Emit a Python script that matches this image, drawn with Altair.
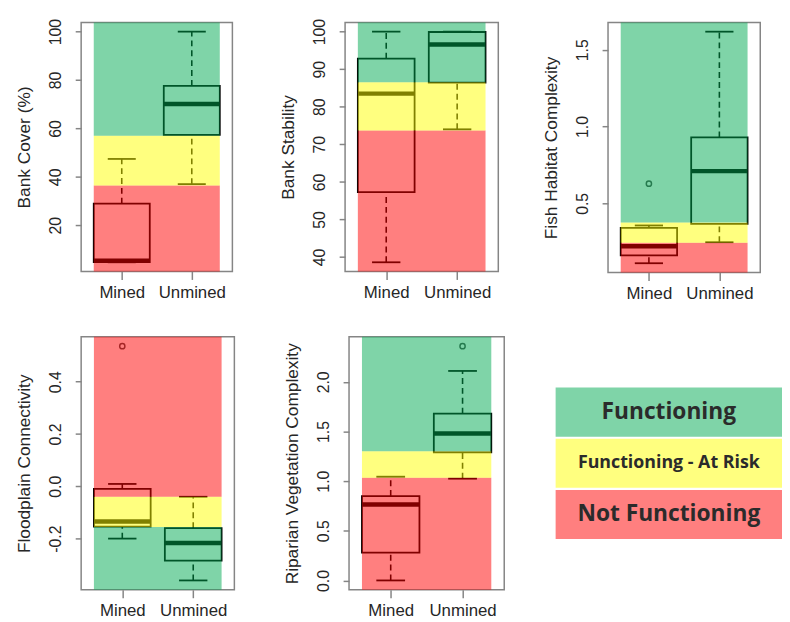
import altair as alt
import pandas as pd

GROUPS = ["Mined", "Unmined"]
ZONES = ["Functioning", "Functioning - At Risk", "Not Functioning"]
ZONE_COLORS = ["#00a951", "#ffff00", "#ff0000"]  # painted at 50% opacity over the boxes

# five-number summaries: [lower whisker, Q1, median, Q3, upper whisker]
BANK_COVER_MINED = [4.7, 4.8, 5.3, 28.9, 47.4]
BANK_COVER_UNMINED = [37.0, 57.3, 70.1, 77.6, 100.0]
BANK_COVER_OUT_MINED = []
BANK_COVER_OUT_UNMINED = []
BANK_COVER_CUTS = [36.4, 57.0]
BANK_COVER_ZONES_UP = ["Not Functioning", "Functioning - At Risk", "Functioning"]
BANK_COVER_TICKS = [20, 40, 60, 80, 100]

BANK_STAB_MINED = [38.6, 57.3, 83.5, 92.8, 100.0]
BANK_STAB_UNMINED = [74.0, 86.4, 96.6, 99.9, 100.0]
BANK_STAB_OUT_MINED = []
BANK_STAB_OUT_UNMINED = []
BANK_STAB_CUTS = [73.7, 86.5]
BANK_STAB_ZONES_UP = ["Not Functioning", "Functioning - At Risk", "Functioning"]
BANK_STAB_TICKS = [40, 50, 60, 70, 80, 90, 100]

FISH_MINED = [0.11, 0.161, 0.221, 0.34, 0.356]
FISH_UNMINED = [0.247, 0.367, 0.71, 0.93, 1.618]
FISH_OUT_MINED = [0.628]
FISH_OUT_UNMINED = []
FISH_CUTS = [0.243, 0.375]
FISH_ZONES_UP = ["Not Functioning", "Functioning - At Risk", "Functioning"]
FISH_TICKS = [0.5, 1.0, 1.5]

FLOOD_MINED = [-0.2, -0.154, -0.135, -0.01, 0.009]
FLOOD_UNMINED = [-0.36, -0.284, -0.217, -0.16, -0.04]
FLOOD_OUT_MINED = [0.536]
FLOOD_OUT_UNMINED = []
FLOOD_CUTS = [-0.156, -0.04]
FLOOD_ZONES_UP = ["Functioning", "Functioning - At Risk", "Not Functioning"]
FLOOD_TICKS = [-0.2, 0.0, 0.2, 0.4]

RIP_MINED = [0.0, 0.28, 0.765, 0.85, 1.045]
RIP_UNMINED = [1.025, 1.29, 1.48, 1.68, 2.11]
RIP_OUT_MINED = []
RIP_OUT_UNMINED = [2.36]
RIP_CUTS = [1.035, 1.30]
RIP_ZONES_UP = ["Not Functioning", "Functioning - At Risk", "Functioning"]
RIP_TICKS = [0.0, 0.5, 1.0, 1.5, 2.0]

# styling
BOX_HALF = 0.4
CAP_HALF = 0.2
LINE = "#000000"
FRAME = "#858585"
FONT = "Liberation Sans"
TXT = "#262626"


def panel(title, mined, unmined, out_m, out_u, cuts, zones_up, ticks, fmt, w, h):
    df = pd.DataFrame({
        "pos": [1, 2],
        "lo": [mined[0], unmined[0]],
        "q1": [mined[1], unmined[1]],
        "med": [mined[2], unmined[2]],
        "q3": [mined[3], unmined[3]],
        "hi": [mined[4], unmined[4]],
    })
    df["x0"] = df["pos"] - BOX_HALF
    df["x1"] = df["pos"] + BOX_HALF
    df["c0"] = df["pos"] - CAP_HALF
    df["c1"] = df["pos"] + CAP_HALF
    outs = pd.DataFrame({"pos": [1] * len(out_m) + [2] * len(out_u),
                         "v": list(out_m) + list(out_u)})
    allv = list(mined) + list(unmined) + list(out_m) + list(out_u)
    vmin, vmax = min(allv), max(allv)
    pad = 0.04 * (vmax - vmin)
    dom = [vmin - pad, vmax + pad]
    edges = [dom[0]] + list(cuts) + [dom[1]]
    bands = pd.DataFrame({
        "zone": zones_up,
        "y0": edges[:-1],
        "y1": edges[1:],
        "x0": [1 - BOX_HALF] * 3,
        "x1": [2 + BOX_HALF] * 3,
    })

    xs = alt.Scale(domain=[0.42, 2.58], nice=False, zero=False)
    ys = alt.Scale(domain=dom, nice=False, zero=False)
    xlab = "[" + ",".join("'%s'" % g for g in GROUPS) + "][datum.value - 1]"
    xaxis = alt.Axis(values=[1, 2], labelExpr=xlab, title=None, grid=False,
                     domain=False, tickSize=8, labelPadding=5, labelFontSize=17)
    ylab = "replace(format(datum.value, '%s'), '\u2212', '-')" % fmt
    yaxis = alt.Axis(values=ticks, labelExpr=ylab, title=title, grid=False,
                     domain=False, tickSize=6, labelPadding=12, labelAngle=270,
                     labelAlign="center", labelBaseline="bottom",
                     minExtent=40, maxExtent=40, titlePadding=8,
                     labelFontSize=16, titleFontSize=17.5)

    def X(f):
        return alt.X(f, scale=xs, axis=xaxis)

    def Y(f):
        return alt.Y(f, scale=ys, axis=yaxis)

    base = alt.Chart(df)
    box = base.mark_rect(fillOpacity=0, stroke=LINE, strokeWidth=1.8).encode(
        x=X("x0:Q"), x2="x1:Q", y=Y("q1:Q"), y2="q3:Q")
    wh_up = base.mark_rule(color=LINE, strokeWidth=1.6, strokeDash=[6, 4]).encode(
        x=X("pos:Q"), y=Y("q3:Q"), y2="hi:Q")
    wh_lo = base.mark_rule(color=LINE, strokeWidth=1.6, strokeDash=[6, 4]).encode(
        x=X("pos:Q"), y=Y("lo:Q"), y2="q1:Q")
    cap_up = base.mark_rule(color=LINE, strokeWidth=1.8).encode(
        x=X("c0:Q"), x2="c1:Q", y=Y("hi:Q"))
    cap_lo = base.mark_rule(color=LINE, strokeWidth=1.8).encode(
        x=X("c0:Q"), x2="c1:Q", y=Y("lo:Q"))
    med = base.mark_rule(color=LINE, strokeWidth=4.5, strokeCap="butt").encode(
        x=X("x0:Q"), x2="x1:Q", y=Y("med:Q"))
    layers = [box, wh_up, wh_lo, cap_up, cap_lo, med]
    if len(outs):
        pts = alt.Chart(outs).mark_point(shape="circle", filled=False, size=28,
                                         color=LINE, strokeWidth=1.5).encode(
            x=X("pos:Q"), y=Y("v:Q"))
        layers.append(pts)
    band = alt.Chart(bands).mark_rect(opacity=0.5).encode(
        x=X("x0:Q"), x2="x1:Q", y=Y("y0:Q"), y2="y1:Q",
        color=alt.Color("zone:N", scale=alt.Scale(domain=ZONES, range=ZONE_COLORS),
                        legend=None))
    layers.append(band)
    return alt.layer(*layers).properties(width=w, height=h)


p1 = panel("Bank Cover (%)", BANK_COVER_MINED, BANK_COVER_UNMINED,
           BANK_COVER_OUT_MINED, BANK_COVER_OUT_UNMINED, BANK_COVER_CUTS,
           BANK_COVER_ZONES_UP, BANK_COVER_TICKS, "d", 153, 252)
p2 = panel("Bank Stability", BANK_STAB_MINED, BANK_STAB_UNMINED,
           BANK_STAB_OUT_MINED, BANK_STAB_OUT_UNMINED, BANK_STAB_CUTS,
           BANK_STAB_ZONES_UP, BANK_STAB_TICKS, "d", 155, 252)
p3 = panel("Fish Habitat Complexity", FISH_MINED, FISH_UNMINED,
           FISH_OUT_MINED, FISH_OUT_UNMINED, FISH_CUTS,
           FISH_ZONES_UP, FISH_TICKS, ".1f", 154, 253)
p4 = panel("Floodplain Connectivity", FLOOD_MINED, FLOOD_UNMINED,
           FLOOD_OUT_MINED, FLOOD_OUT_UNMINED, FLOOD_CUTS,
           FLOOD_ZONES_UP, FLOOD_TICKS, ".1f", 155, 256)
p5 = panel("Riparian Vegetation Complexity", RIP_MINED, RIP_UNMINED,
           RIP_OUT_MINED, RIP_OUT_UNMINED, RIP_CUTS,
           RIP_ZONES_UP, RIP_TICKS, ".1f", 157, 256)

# legend panel
LEG_W = 229
leg_df = pd.DataFrame({"zone": ZONES, "v": [1, 1, 1]})
leg_y = alt.Scale(domain=ZONES, paddingInner=0.04, paddingOuter=0.99)
leg_base = alt.Chart(leg_df)
leg_rect = leg_base.mark_bar(opacity=0.5).encode(
    y=alt.Y("zone:N", scale=leg_y, axis=None),
    x=alt.X("v:Q", scale=alt.Scale(domain=[0, 1], nice=False), axis=None),
    color=alt.Color("zone:N", scale=alt.Scale(domain=ZONES, range=ZONE_COLORS), legend=None))
leg_big = leg_base.mark_text(font="Open Sans", fontWeight="bold", fontSize=23,
                             color="#2b2b2b").encode(
    y=alt.Y("zone:N", scale=leg_y, axis=None),
    x=alt.value(LEG_W / 2), text="zone:N").transform_filter(
    "datum.zone != '%s'" % ZONES[1])
leg_small = leg_base.mark_text(font="Open Sans", fontWeight="bold", fontSize=18,
                               color="#2b2b2b").encode(
    y=alt.Y("zone:N", scale=leg_y, axis=None),
    x=alt.value(LEG_W / 2), text="zone:N").transform_filter(
    "datum.zone == '%s'" % ZONES[1])
legend = alt.layer(leg_rect, leg_big, leg_small).properties(
    width=LEG_W, height=256, view=alt.ViewBackground(strokeOpacity=0))

top = alt.hconcat(alt.hconcat(p1, p2, spacing=46), p3, spacing=43)
bottom = alt.hconcat(alt.hconcat(p4, p5, spacing=48), legend, spacing=51)

chart = alt.vconcat(top, bottom, spacing=34).properties(
    padding={"left": 7, "top": 6, "right": 0, "bottom": 0}
).configure_view(
    stroke=FRAME, strokeWidth=1.5
).configure_axis(
    tickColor=FRAME, tickWidth=1.5, labelColor=TXT, titleColor=TXT,
    labelFont=FONT, titleFont=FONT, titleFontWeight="normal"
)

chart.save("out.html", embed_options={"renderer": "svg", "actions": False})
